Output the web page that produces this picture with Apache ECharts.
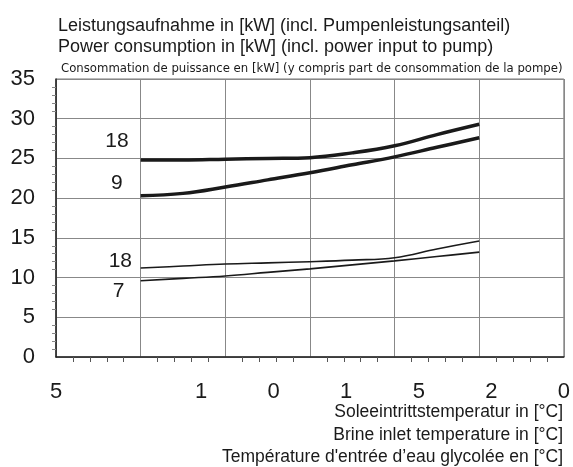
<!DOCTYPE html>
<html>
<head>
<meta charset="utf-8">
<script src="https://cdn.jsdelivr.net/npm/echarts@6/dist/echarts.min.js"></script>
<style>
  html, body { margin: 0; padding: 0; background: #fff; }
  #chart { width: 573px; height: 467px; }
</style>
</head>
<body>
<div id="chart"></div>
<script>
// brine inlet temperature [°C]
var brineTemps = [-5, -2.5, 0, 2.5, 5, 7.5, 10, 12.5, 15];

// power consumption [kW]
var heavy18 = [24.8, 24.8, 24.9, 25.0, 25.1, 25.7, 26.6, 28.0, 29.3];
var heavy9 = [20.3, 20.6, 21.4, 22.3, 23.2, 24.2, 25.2, 26.4, 27.6];
var light18 = [11.2, 11.45, 11.7, 11.85, 12.0, 12.2, 12.5, 13.6, 14.6];
var light7 = [9.6, 9.9, 10.2, 10.65, 11.1, 11.6, 12.1, 12.65, 13.2];

// curve names as printed left of each curve, with their anchor [x, y]
var curveNames = ['18', '9', '18', '7'];
var curveNameAt = [[-6.4, 27.2], [-6.4, 21.9], [-6.2, 12.0], [-6.3, 8.3]];

// x tick labels as they appear (shifted, truncated) under the axis
var xTickLabels = ['5', '', '1', '0', '1', '5', '2', '0'];

var yTitle = [
  'Leistungsaufnahme in [kW] (incl. Pumpenleistungsanteil)',
  'Power consumption in [kW] (incl. power input to pump)',
  'Consommation de puissance en [kW] (y compris part de consommation de la pompe)'
];
var xTitle = [
  'Soleeintrittstemperatur in [°C]',
  'Brine inlet temperature in [°C]',
  'Température d\'entrée d\u2019eau glycolée en [°C]'
];

var FONT = "'Liberation Sans', Arial, sans-serif";
var NARROW = "'Liberation Sans Narrow', 'DejaVu Sans Condensed', sans-serif";
var INK = '#1a1a1a';

function pairs(vals) {
  return brineTemps.map(function (t, i) { return [t, vals[i]]; });
}

function curve(vals, width, k) {
  return {
    type: 'line',
    data: pairs(vals),
    smooth: 0.4,
    symbol: 'none',
    xAxisIndex: 0,
    lineStyle: { color: INK, width: width },
    silent: true,
    markPoint: {
      symbol: 'circle',
      symbolSize: 0,
      label: {
        show: true,
        position: 'inside',
        formatter: curveNames[k],
        fontFamily: FONT,
        fontSize: 21,
        color: INK
      },
      data: [{ coord: curveNameAt[k] }]
    }
  };
}

function txt(s, pos, font, size) {
  var t = { text: s, textStyle: { fontFamily: font, fontSize: size, fontWeight: 'normal', color: INK } };
  for (var k in pos) t[k] = pos[k];
  return t;
}

var chart = echarts.init(document.getElementById('chart'));

chart.setOption({
  animation: false,
  backgroundColor: '#fff',
  title: [
    txt(yTitle[0], { left: 53, top: 12 }, FONT, 18),
    txt(yTitle[1], { left: 53, top: 33 }, FONT, 18),
    txt(yTitle[2], { left: 56, top: 57 }, NARROW, 13),
    txt(xTitle[0], { right: 5, top: 398 }, FONT, 17.5),
    txt(xTitle[1], { right: 5, top: 421 }, FONT, 17.5),
    txt(xTitle[2], { right: 5, top: 443 }, FONT, 17.5)
  ],
  grid: {
    left: 56, right: 7, top: 79, bottom: 110,
    show: true, borderColor: '#777', borderWidth: 1
  },
  xAxis: [
    {
      type: 'value', min: -10, max: 20, interval: 5,
      axisLine: { show: true, onZero: false, lineStyle: { color: '#222', width: 1.5 } },
      axisTick: { show: false },
      minorTick: { show: true, splitNumber: 5, length: 5, lineStyle: { color: '#555' } },
      axisLabel: { show: false },
      splitLine: { show: true, lineStyle: { color: '#888', width: 1 } }
    },
    {
      type: 'value', min: 0, max: 7, interval: 1, position: 'bottom',
      axisLine: { show: false },
      axisTick: { show: false },
      splitLine: { show: false },
      axisLabel: {
        show: true, margin: 24, fontFamily: FONT, fontSize: 22, color: INK,
        showMinLabel: true, showMaxLabel: true,
        formatter: function (v) { return xTickLabels[Math.round(v)]; }
      }
    }
  ],
  yAxis: {
    type: 'value', min: 0, max: 35, interval: 5,
    axisLine: { show: true, onZero: false, lineStyle: { color: '#222', width: 1.5 } },
    axisTick: { show: false },
    minorTick: { show: true, splitNumber: 5, length: 4, lineStyle: { color: '#888' } },
    axisLabel: { margin: 21, fontFamily: FONT, fontSize: 22, color: INK },
    splitLine: { show: true, lineStyle: { color: '#888', width: 1 } }
  },
  series: [
    curve(heavy18, 3.5, 0),
    curve(heavy9, 3.5, 1),
    curve(light18, 1.6, 2),
    curve(light7, 1.6, 3)
  ]
});
</script>
</body>
</html>
